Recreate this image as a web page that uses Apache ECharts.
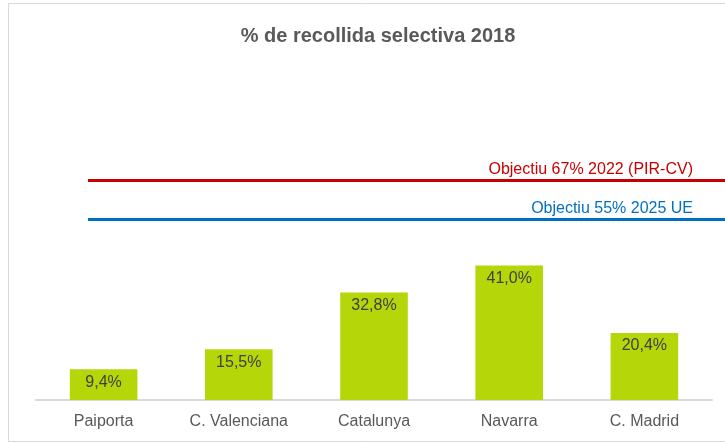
<!DOCTYPE html>
<html>
  <head>
    <meta charset="UTF-8">
    <title></title>
    <script src="https://cdn.jsdelivr.net/npm/echarts@6/dist/echarts.min.js"></script>
    <style type="text/css">
      * {margin: 0; padding: 0;}
      body {background: #fff;}
    </style>
  </head>
  <body>
    <div id="chart" style="width:725px;height:443px"></div>
    <script type="text/javascript">
      // dades
      var categories = ['Paiporta', 'C. Valenciana', 'Catalunya', 'Navarra', 'C. Madrid'];
      var values = [9.4, 15.5, 32.8, 41.0, 20.4];
      var targetNames = ['Objectiu 67% 2022 (PIR-CV)', 'Objectiu 55% 2025 UE'];
      var targetValues = [67, 55];
      var targetColors = ['#C80000', '#0070C0'];

      var chart = echarts.init(document.getElementById('chart'));

      var fontFam = '"Liberation Sans", Arial, sans-serif';

      var targetLines = [];
      for (var i = 0; i < targetValues.length; i++) {
        targetLines.push({
          yAxis: targetValues[i],
          lineStyle: {color: targetColors[i], width: 3, type: 'solid'},
          label: {
            show: true,
            position: 'insideEndTop',
            distance: [32, 3],
            formatter: targetNames[i],
            color: targetColors[i],
            fontSize: 16,
            fontFamily: fontFam
          }
        });
      }

      var option = {
        animation: false,
        title: {
          text: '% de recollida selectiva 2018',
          left: 373,
          textAlign: 'center',
          top: 21,
          textStyle: {fontSize: 20, fontWeight: 'bold', color: '#595959', fontFamily: fontFam}
        },
        graphic: [{
          type: 'rect',
          shape: {x: 8.5, y: 3.5, width: 740, height: 438},
          style: {fill: 'none', stroke: '#d9d9d9', lineWidth: 1},
          silent: true
        }],
        grid: [
          {left: 36, right: 13, top: 72, bottom: 43},
          {left: 88, right: 0, top: 72, bottom: 43}
        ],
        xAxis: [
          {
            type: 'category',
            gridIndex: 0,
            data: categories,
            axisTick: {show: false},
            axisLine: {lineStyle: {color: '#d9d9d9', width: 2}},
            axisLabel: {color: '#595959', fontSize: 16, fontFamily: fontFam, margin: 14}
          },
          {
            type: 'category',
            gridIndex: 1,
            boundaryGap: false,
            data: ['a', 'b'],
            show: false
          }
        ],
        yAxis: [
          {type: 'value', gridIndex: 0, min: 0, max: 100, show: false},
          {type: 'value', gridIndex: 1, min: 0, max: 100, show: false}
        ],
        series: [
          {
            name: 'recollida',
            type: 'bar',
            xAxisIndex: 0,
            yAxisIndex: 0,
            data: values,
            barWidth: '50%',
            itemStyle: {color: '#B5D70A'},
            label: {
              show: true,
              position: 'insideTop',
              distance: 5,
              color: '#404040',
              fontSize: 16,
              fontFamily: fontFam,
              formatter: function (p) {
                return p.value.toFixed(1).replace('.', ',') + '%';
              }
            }
          },
          {
            name: 'objectius',
            type: 'line',
            xAxisIndex: 1,
            yAxisIndex: 1,
            data: [],
            markLine: {
              symbol: ['none', 'none'],
              silent: true,
              data: targetLines
            }
          }
        ]
      };

      chart.setOption(option);
    </script>
  </body>
</html>
